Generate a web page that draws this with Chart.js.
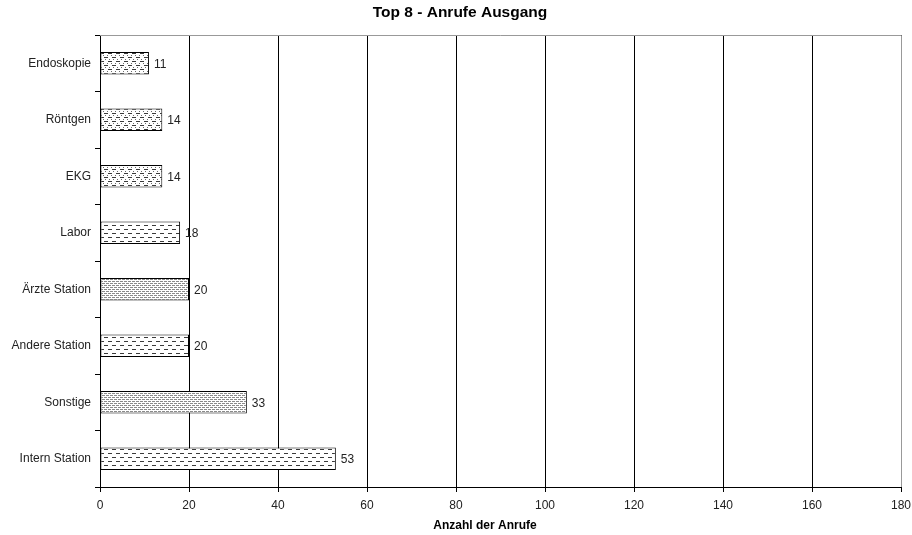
<!DOCTYPE html>
<html>
<head>
<meta charset="utf-8">
<script src="https://cdn.jsdelivr.net/npm/chart.js@4/dist/chart.umd.min.js"></script>
<style>
  html, body { margin: 0; padding: 0; background: #fff; }
  #wrap { width: 912px; height: 535px; }
</style>
</head>
<body>
<div id="wrap"><canvas id="c" width="912" height="535"></canvas></div>
<script>
// Outgoing calls per destination (top 8)
const categories = ['Endoskopie', 'Röntgen', 'EKG', 'Labor', 'Ärzte Station', 'Andere Station', 'Sonstige', 'Intern Station'];
const calls = [11, 14, 14, 18, 20, 20, 33, 53];
const fillKinds = ['dotdash', 'dotdash', 'dotdash', 'dash', 'grey', 'dash', 'grey', 'dash'];
const xTicks = [0, 20, 40, 60, 80, 100, 120, 140, 160, 180];

const FONT = '"Liberation Sans", Arial, sans-serif';

// Hatched fills for the bars
function makePattern(kind) {
  const t = document.createElement('canvas');
  t.width = 8; t.height = 8;
  const g = t.getContext('2d');
  g.fillStyle = '#fff';
  g.fillRect(0, 0, 8, 8);
  if (kind === 'dash') {
    g.fillStyle = '#3a3a3a';
    g.fillRect(0, 1, 4, 1);
    g.fillRect(4, 5, 4, 1);
  } else if (kind === 'dotdash') {
    g.fillStyle = '#3a3a3a';
    g.fillRect(0, 1, 4, 1);
    g.fillRect(4, 5, 4, 1);
    g.fillStyle = '#6a6a6a';
    g.fillRect(1, 3, 1, 1); g.fillRect(5, 3, 1, 1);
    g.fillRect(3, 7, 1, 1); g.fillRect(7, 7, 1, 1);
  } else {
    g.fillStyle = '#8a8a8a';
    g.fillRect(0, 1, 3, 1); g.fillRect(4, 1, 3, 1);
    g.fillRect(2, 3, 3, 1); g.fillRect(6, 3, 2, 1); g.fillRect(0, 3, 1, 1);
    g.fillRect(0, 5, 3, 1); g.fillRect(4, 5, 3, 1);
    g.fillRect(2, 7, 3, 1); g.fillRect(6, 7, 2, 1); g.fillRect(0, 7, 1, 1);
  }
  return g.createPattern(t, 'repeat');
}

const chartLayout = {
  id: 'chartLayout',
  beforeDraw(chart) {
    const ctx = chart.ctx;
    ctx.save();
    ctx.fillStyle = '#fff';
    ctx.fillRect(0, 0, chart.width, chart.height);
    ctx.restore();
  },
  afterDraw(chart) {
    const ctx = chart.ctx;
    const a = chart.chartArea;
    ctx.save();
    // grey frame on top and right of the plot area
    ctx.strokeStyle = '#999';
    ctx.lineWidth = 1;
    ctx.beginPath();
    ctx.moveTo(a.left, a.top + 0.5);
    ctx.lineTo(a.right + 0.5, a.top + 0.5);
    ctx.lineTo(a.right + 0.5, a.bottom);
    ctx.stroke();
    // title
    ctx.fillStyle = '#000';
    ctx.font = 'bold 15.5px ' + FONT;
    ctx.textAlign = 'center';
    ctx.textBaseline = 'middle';
    ctx.fillText('Top 8 - Anrufe Ausgang', 460, 13);
    // axis title
    ctx.font = 'bold 12px ' + FONT;
    ctx.fillText('Anzahl der Anrufe', 485, 526);
    ctx.restore();
  },
  afterDatasetsDraw(chart) {
    const ctx = chart.ctx;
    const meta = chart.getDatasetMeta(0);
    ctx.save();
    ctx.fillStyle = '#222';
    ctx.font = '12px ' + FONT;
    ctx.textAlign = 'left';
    ctx.textBaseline = 'middle';
    meta.data.forEach((bar, i) => {
      ctx.fillText(String(calls[i]), bar.x + 5, bar.y + 1);
    });
    ctx.restore();
  }
};

new Chart(document.getElementById('c'), {
  type: 'bar',
  data: {
    labels: categories,
    datasets: [{
      data: calls,
      backgroundColor: fillKinds.map(makePattern),
      borderColor: '#000',
      borderWidth: 1,
      borderSkipped: false,
      barPercentage: 0.4,
      categoryPercentage: 1
    }]
  },
  options: {
    indexAxis: 'y',
    responsive: false,
    animation: false,
    devicePixelRatio: 1,
    layout: { padding: { top: 35, right: 0, left: 0, bottom: 0 } },
    plugins: { legend: { display: false }, tooltip: { enabled: false }, title: { display: false } },
    scales: {
      x: {
        min: 0, max: 180,
        afterBuildTicks(scale) { scale.ticks = xTicks.map(v => ({ value: v })); },
        afterFit(scale) { scale.height = 48; scale.paddingRight = 11; },
        grid: { color: '#000', lineWidth: 1, drawTicks: true, tickLength: 5, tickColor: '#000' },
        border: { display: true, color: '#000' },
        ticks: { color: '#222', font: { family: FONT, size: 12 }, padding: 6, maxRotation: 0 }
      },
      y: {
        afterFit(scale) { scale.width = 100; },
        grid: { offset: true, drawOnChartArea: false, drawTicks: true, tickLength: 5, tickColor: '#000' },
        border: { display: true, color: '#000' },
        ticks: { color: '#222', font: { family: FONT, size: 12 }, padding: 4 }
      }
    }
  },
  plugins: [chartLayout]
});
</script>
</body>
</html>
